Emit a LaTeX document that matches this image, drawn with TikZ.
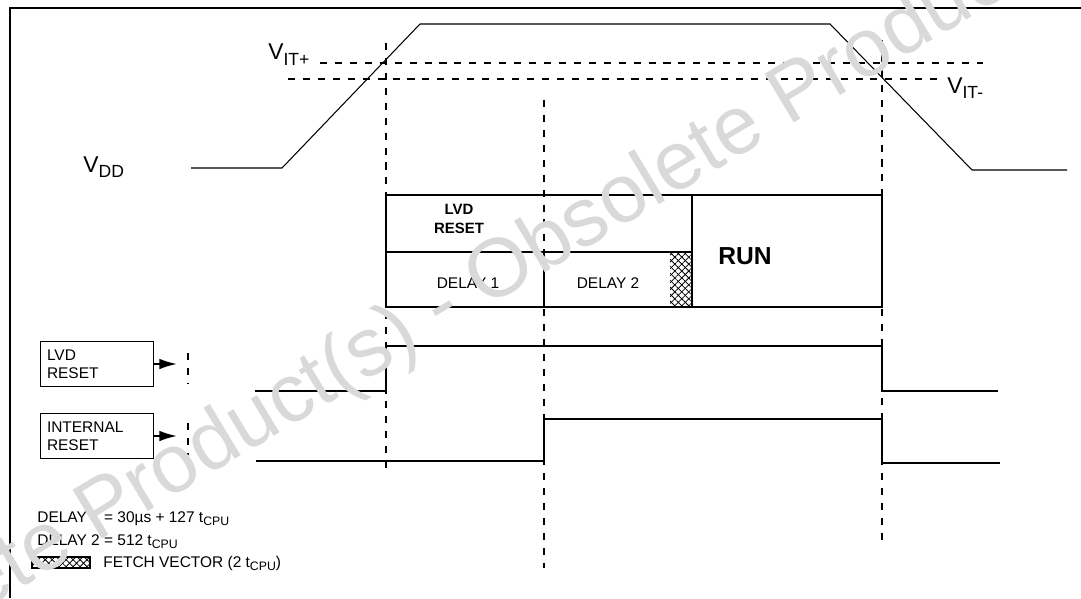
\documentclass[tikz,border=0pt]{standalone}
\usepackage{fontspec}
\setmainfont{Liberation Sans}
\usetikzlibrary{arrows.meta,patterns.meta}

\newcommand{\vname}[1]{{\fontsize{13}{14}\selectfont V\raisebox{-0.45ex}{\fontsize{10}{11}\selectfont #1}}}
\newcommand{\tcpu}{t\raisebox{-0.4ex}{\fontsize{7}{8}\selectfont CPU}}

\begin{document}
\begin{tikzpicture}[x=0.02cm,y=-0.02cm]

\tikzset{sig/.style={line width=1.1pt},
  supply/.style={line width=0.6pt},
  guide/.style={line width=0.9pt, dash pattern=on 4pt off 4.5pt},
  cell/.style={line width=1.1pt},
  xhatch/.style={pattern={Lines[angle=45,distance=2.8pt,line width=0.45pt]}},
  yhatch/.style={pattern={Lines[angle=-45,distance=2.8pt,line width=0.45pt]}},
  small/.style={font=\fontsize{8.8}{10.5}\selectfont, inner sep=0pt},
  sigbox/.style={draw, line width=1.1pt,
    minimum width=2.26cm, minimum height=0.9cm,
    text width=2.0cm, align=left, inner sep=0.1cm,
    font=\fontsize{8.8}{10.5}\selectfont}
}

\useasboundingbox (0,0) rectangle (1081,598);

% frame
\draw[line width=1.1pt] (10,598) -- (10,8) -- (1081,8);

% supply and thresholds
\draw[guide] (320,63) -- (983,63);
\draw[guide] (288,79) -- (945,79);
\node[anchor=base west, inner sep=0pt] (vitp) at (268,60) {\vname{IT+}};
\node[anchor=base west, inner sep=0pt] (vitm) at (947,93) {\vname{IT-}};
\node[anchor=base west, inner sep=0pt] (vdd) at (83,172) {\vname{DD}};
\draw[supply] (191,168) -- (282,168) -- (420,24) -- (830,24) -- (972,170) -- (1067,170);

% time marks
\draw[guide] (386,43) -- (386,470);
\draw[guide] (544,100) -- (544,568);
\draw[guide] (882,40) -- (882,545);

% states
\fill[xhatch] (670,252) rectangle (692,307);
\fill[yhatch] (670,252) rectangle (692,307);
\draw[cell] (386,195) rectangle (882,307);
\draw[cell] (386,252) -- (692,252);
\draw[cell] (692,195) -- (692,307);
\draw[cell] (544,252) -- (544,307);
\node[small, align=center, font=\fontsize{8.5}{11}\selectfont\bfseries] (lvdcell) at (459,219) {LVD\\RESET};
\node[small] (dly1) at (468,283) {DELAY 1};
\node[small] (dly2) at (608,283) {DELAY 2};
\node[inner sep=0pt, font=\fontsize{14}{16}\selectfont\bfseries] (run) at (745,256) {RUN};

% reset lines
\node[sigbox] (lvdbox) at (97,364) {LVD\\RESET};
\node[sigbox] (intbox) at (97,436) {INTERNAL\\RESET};
\coordinate (lvdtip) at (177,364);
\coordinate (inttip) at (177,436);
\draw[-{Latex[length=10pt,width=6pt]}, line width=1.1pt] (lvdbox) -- (lvdtip);
\draw[-{Latex[length=10pt,width=6pt]}, line width=1.1pt] (intbox) -- (inttip);
\draw[guide] (188,353) -- (188,383);
\draw[guide] (188,423) -- (188,455);
\draw[sig] (255,391) -- (386,391) -- (386,346) -- (882,346) -- (882,391) -- (998,391);
\draw[sig] (256,461) -- (544,461) -- (544,419) -- (882,419) -- (882,463) -- (1000,463);

% legend
\node[small, anchor=base west] (def1) at (37,522) {DELAY 1 = 30µs + 127 \tcpu};
\node[small, anchor=base west] (def2) at (37,545) {DELAY 2 = 512 \tcpu};
\fill[xhatch] (32,557) rectangle (90,568);
\fill[yhatch] (32,557) rectangle (90,568);
\draw[line width=1.1pt] (32,557) rectangle (90,568);
\node[small, anchor=base west] (fetch) at (103,567) {FETCH VECTOR (2 \tcpu)};

% watermark
\begin{scope}
\clip (0,0) rectangle (1081,598);
\node[anchor=base west, rotate=31, text=black!15, inner sep=0pt,
  font=\fontsize{47}{49}\selectfont] (mark) at (-207,725) {Obsolete Product(s) - Obsolete Product(s)};
\end{scope}

\end{tikzpicture}
\end{document}
